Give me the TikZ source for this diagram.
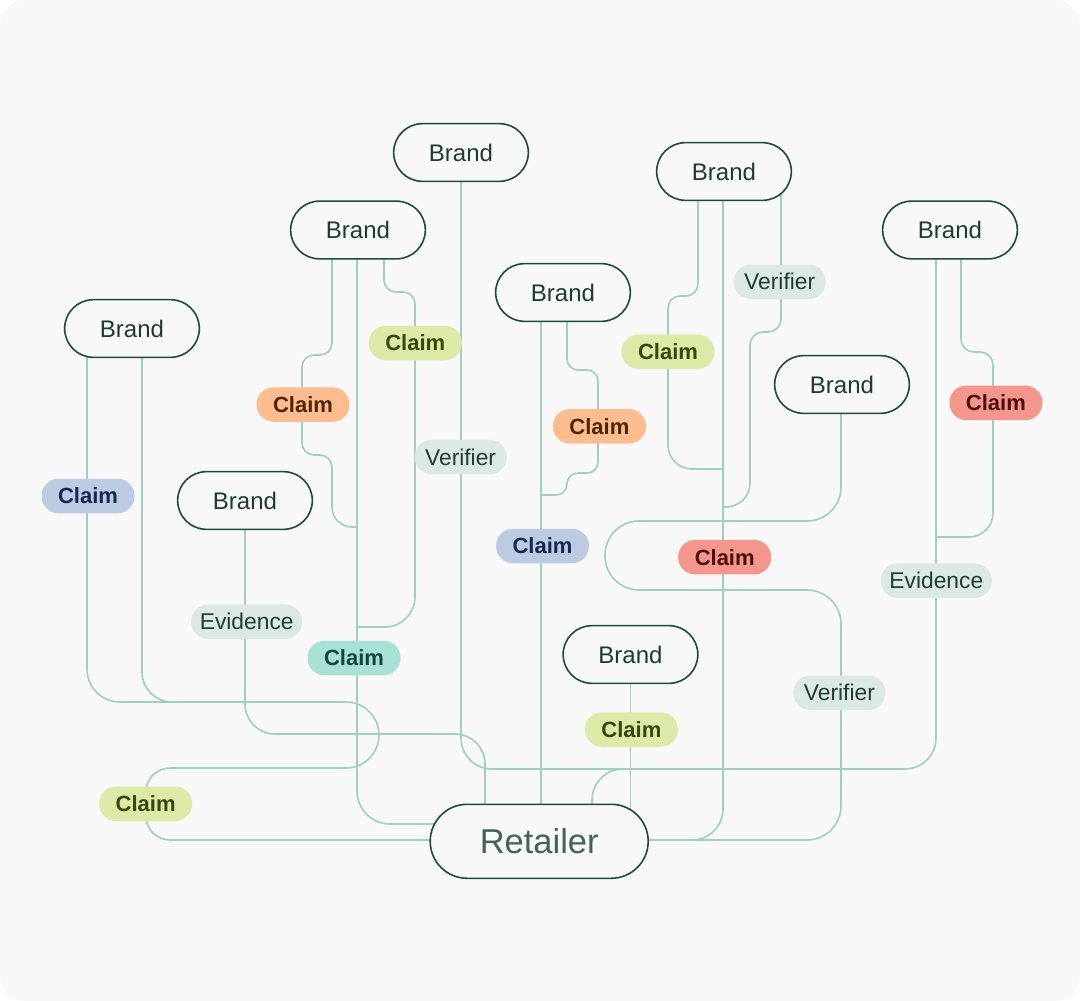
\documentclass[tikz,border=0pt]{standalone}
\usepackage{fontspec}
\setmainfont{Liberation Sans}
\usetikzlibrary{calc}
\definecolor{bgc}{HTML}{F8F8F8}
\definecolor{linec}{HTML}{9DD0C0}
\definecolor{brandline}{HTML}{1E4A3C}
\definecolor{brandtext}{HTML}{1C3B31}
\definecolor{rettext}{HTML}{426458}
\definecolor{neutfill}{HTML}{DCE8E3}
\definecolor{neuttext}{HTML}{1E3D33}
\definecolor{bluefill}{HTML}{BCCAE2}
\definecolor{bluetext}{HTML}{142850}
\definecolor{limefill}{HTML}{DDE9A6}
\definecolor{limetext}{HTML}{34480F}
\definecolor{orangefill}{HTML}{FEBD8E}
\definecolor{orangetext}{HTML}{4F2408}
\definecolor{redfill}{HTML}{F5968C}
\definecolor{redtext}{HTML}{4A0F0F}
\definecolor{tealfill}{HTML}{A7E1D5}
\definecolor{tealtext}{HTML}{14463C}
\pgfdeclarelayer{bgl}
\pgfdeclarelayer{lines}
\pgfsetlayers{bgl,lines,main}
\begin{document}
\begin{tikzpicture}[x=1pt,y=-1pt,
  brand/.style={draw=brandline, line width=1.6pt, fill=bgc, rounded corners=28.8pt,
    minimum width=134.7pt, minimum height=57.7pt, inner sep=0pt, text=brandtext,
    font=\fontsize{24}{24}\selectfont},
  retailer/.style={brand, rounded corners=37pt, minimum width=218pt, minimum height=74pt,
    text=rettext, font=\fontsize{34.5}{34.5}\selectfont},
  pilltag/.style={rounded corners=17pt, minimum height=34.5pt, inner sep=0pt,
    font=\fontsize{22.8}{22.8}\selectfont},
  claimtag/.style={pilltag, minimum width=93pt, font=\fontsize{22}{22}\selectfont\bfseries},
  cblue/.style={claimtag, fill=bluefill, text=bluetext},
  clime/.style={claimtag, fill=limefill, text=limetext},
  corange/.style={claimtag, fill=orangefill, text=orangetext},
  cred/.style={claimtag, fill=redfill, text=redtext},
  cteal/.style={claimtag, fill=tealfill, text=tealtext},
  verif/.style={pilltag, minimum width=92pt, fill=neutfill, text=neuttext},
  evid/.style={pilltag, minimum width=111pt, fill=neutfill, text=neuttext},
  link/.style={draw=linec, line width=1.6pt},
]
\useasboundingbox (0,0) rectangle (1080,1001);
\begin{pgfonlayer}{bgl}
  \fill[white] (0,0) rectangle (1080,1001);
  \fill[bgc, rounded corners=25pt] (0,0) rectangle (1080,1001);
\end{pgfonlayer}

% Brand nodes
\node[brand] (B1) at (461,152.5) {Brand};
\node[brand] (B2) at (358,230) {Brand};
\node[brand] (B3) at (132,328.5) {Brand};
\node[brand] (B4) at (245,500.5) {Brand};
\node[brand] (B5) at (563,292.5) {Brand};
\node[brand] (B6) at (724,171.5) {Brand};
\node[brand] (B7) at (950,230) {Brand};
\node[brand] (B8) at (842,384.5) {Brand};
\node[brand] (B9) at (630.5,654.5) {Brand};
\node[retailer] (Rt) at (539.2,841.3) {Retailer};

% Tags
\node[clime] (cg1) at (415.3,343) {Claim};
\node[corange] (co1) at (303,404.5) {Claim};
\node[verif] (v1) at (460.6,457) {Verifier};
\node[cblue] (cb1) at (88,496) {Claim};
\node[evid] (e1) at (246.7,621.7) {Evidence};
\node[cteal] (ct) at (354,658) {Claim};
\node[clime] (cg3) at (145.7,803.8) {Claim};
\node[cblue] (cb2) at (542.5,546) {Claim};
\node[corange] (co2) at (599.4,426.3) {Claim};
\node[clime] (cg2) at (668,351.7) {Claim};
\node[verif] (v2) at (779.7,281.8) {Verifier};
\node[cred] (cr1) at (995.9,402.8) {Claim};
\node[cred] (cr2) at (724.7,557.2) {Claim};
\node[evid] (e2) at (936.3,580.7) {Evidence};
\node[verif] (v3) at (839.4,692.8) {Verifier};
\node[clime] (cg4) at (631.4,729.5) {Claim};

\begin{pgfonlayer}{lines}
% B1 to B7 long link
\draw[link, rounded corners=31pt] (B1.center) -- (461,769) -- (936,769) -- (936,0 |- B7.center);
% Retailer up to the long horizontal
\draw[link, rounded corners=31pt] (592,0 |- Rt.center) -- (592,769) -- (680,769);
% B7 right branch
\draw[link, rounded corners=13pt] (961,0 |- B7.center) -- (961,352) -- (993,352) -- (993,450);
\draw[link, rounded corners=24pt] (993,450) -- (993,537) -- (936,537);
% B6 branches
\draw[link, rounded corners=12pt] (698,0 |- B6.center) -- (698,296) -- (668,296) -- (668,400);
\draw[link, rounded corners=24pt] (668,400) -- (668,469) -- (723,469);
\draw[link, rounded corners=31pt] (723,0 |- B6.center) -- (723,840) -- (Rt.center |- 0,840);
\draw[link, rounded corners=13pt] (781,0 |- B6.center) -- (781,332) -- (750,332) -- (750,420);
\draw[link, rounded corners=24pt] (750,420) -- (750,507) -- (723,507);
% B8
\draw[link, rounded corners=34pt] (841,0 |- B8.center) -- (841,521) -- (605,521) -- (605,590)
  -- (841,590) -- (841,840) -- (Rt.center |- 0,840);
% B2 branches
\draw[link, rounded corners=12pt] (332,0 |- B2.center) -- (332,355) -- (302,355) -- (302,455)
  -- (332,455) -- (332,490);
\draw[link, rounded corners=20pt] (332,490) -- (332,527) -- (357,527);
\draw[link, rounded corners=33pt] (357,0 |- B2.center) -- (357,824) -- (Rt.center |- 0,824);
\draw[link, rounded corners=12pt] (384,0 |- B2.center) -- (384,292) -- (415,292) -- (415,500);
\draw[link, rounded corners=30pt] (415,500) -- (415,627) -- (357,627);
% B4
\draw[link, rounded corners=30pt] (B4.center) -- (245,734) -- (485,734) -- (485,0 |- Rt.center);
% B3
\draw[link, rounded corners=33pt] (87,0 |- B3.center) -- (87,702) -- (379,702) -- (379,768) -- (250,768);
\draw[link, rounded corners=24pt] (250,768) -- (146,768) -- (146,840) -- (Rt.center |- 0,840);
\draw[link, rounded corners=30pt] (142,0 |- B3.center) -- (142,702) -- (220,702);
% B5
\draw[link] (541,0 |- B5.center) -- (541,0 |- Rt.center);
\draw[link, rounded corners=11pt] (567,0 |- B5.center) -- (567,370) -- (598,370) -- (598,473)
  -- (567,473) -- (567,495) -- (541,495);
% B9
\draw[link] (B9.center) -- (B9.center |- Rt.center);
\end{pgfonlayer}
\end{tikzpicture}
\end{document}
